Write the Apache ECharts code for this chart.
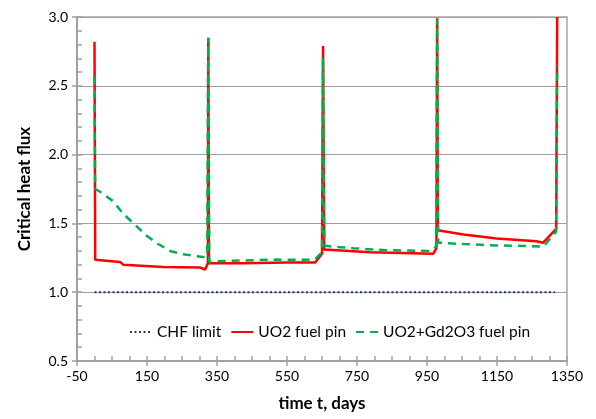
<!DOCTYPE html>
<html>
<head>
<meta charset="utf-8">
<script src="https://cdn.jsdelivr.net/npm/echarts@6/dist/echarts.min.js"></script>
<style>html,body{margin:0;padding:0;background:#fff}#c{width:596px;height:419px}</style>
</head>
<body>
<div id="c"></div>
<script>
// ---- data ----
var chfDays = [0, 1316];
var chfValues = [1.0, 1.0];

var uo2Days = [0, 2, 73, 82, 197, 301, 316, 324, 325, 327, 332, 425, 549, 630, 650, 653, 656, 787, 968, 977, 979, 981, 1054, 1149, 1263, 1282, 1319, 1322];
var uo2Values = [2.82, 1.236, 1.22, 1.20, 1.183, 1.18, 1.165, 1.21, 2.85, 1.21, 1.20, 1.21, 1.215, 1.215, 1.28, 2.79, 1.31, 1.29, 1.28, 1.32, 2.99, 1.45, 1.42, 1.39, 1.37, 1.36, 1.46, 3.0];

var gdDays = [0, 2, 16, 54, 82, 116, 149, 182, 216, 254, 311, 322, 325, 328, 353, 416, 520, 606, 630, 650, 653, 657, 682, 739, 835, 958, 976, 979, 982, 1054, 1149, 1244, 1282, 1319, 1322];
var gdValues = [2.57, 1.75, 1.73, 1.66, 1.57, 1.49, 1.41, 1.35, 1.30, 1.275, 1.255, 1.26, 2.85, 1.22, 1.225, 1.23, 1.237, 1.235, 1.24, 1.29, 2.71, 1.34, 1.33, 1.32, 1.305, 1.30, 1.33, 2.98, 1.36, 1.35, 1.34, 1.335, 1.33, 1.44, 2.65];

var seriesNames = ['CHF limit', 'UO2 fuel pin', 'UO2+Gd2O3 fuel pin'];
var xMin = -50, xMax = 1350, xStep = 200;
var yMin = 0.5, yMax = 3.0, yStep = 0.5;
var xTitle = 'time t, days';
var yTitle = 'Critical heat flux';

function pairs(xs, ys) { return xs.map(function (x, i) { return [x, ys[i]]; }); }

var FONT = 'Lato';
var AX = '#a0a0a0';
var chart = echarts.init(document.getElementById('c'), null, {renderer: 'canvas'});
chart.setOption({
  animation: false,
  backgroundColor: '#fff',
  grid: {left: 77, right: 29, top: 17, bottom: 58, show: true, borderColor: '#a6a6a6', borderWidth: 1.5},
  legend: {
    data: seriesNames, left: 124, top: 319, itemWidth: 22, itemHeight: 10, itemGap: 9,
    itemStyle: {opacity: 0},
    textStyle: {fontFamily: FONT, fontSize: 15.5, color: '#000'}
  },
  xAxis: [{
    type: 'value', min: xMin, max: xMax, interval: xStep,
    name: xTitle, nameLocation: 'middle', nameGap: 34,
    nameTextStyle: {fontFamily: FONT, fontSize: 17, fontWeight: 'bold', color: '#000'},
    axisLine: {show: true, onZero: false, lineStyle: {color: AX, width: 2}},
    axisTick: {show: true, inside: false, length: 5, lineStyle: {color: AX, width: 1.5}},
    axisLabel: {fontFamily: FONT, fontSize: 14, color: '#000', margin: 8,
      formatter: function (v) { return String(v); }},
    splitLine: {show: false}
  }, {
    type: 'value', min: xMin, max: xMax, interval: xStep, position: 'bottom',
    axisLine: {show: false, onZero: false},
    axisTick: {show: true, inside: true, length: 5, lineStyle: {color: AX, width: 1.5}},
    minorTick: {show: true, splitNumber: 4, length: 5, lineStyle: {color: AX, width: 1.5}},
    axisLabel: {show: false}, splitLine: {show: false}
  }],
  yAxis: [{
    type: 'value', min: yMin, max: yMax, interval: yStep,
    name: yTitle, nameLocation: 'middle', nameGap: 44,
    nameTextStyle: {fontFamily: FONT, fontSize: 17, fontWeight: 'bold', color: '#000'},
    axisLine: {show: true, onZero: false, lineStyle: {color: AX, width: 2}},
    axisTick: {show: true, inside: false, length: 5, lineStyle: {color: AX, width: 1.5}},
    axisLabel: {fontFamily: FONT, fontSize: 14, color: '#000', margin: 9,
      formatter: function (v) { return v.toFixed(1); }},
    splitLine: {show: true, lineStyle: {color: '#a0a0a0', width: 1}}
  }, {
    type: 'value', min: yMin, max: yMax, interval: yStep, position: 'left',
    axisLine: {show: false, onZero: false},
    axisTick: {show: true, inside: true, length: 5, lineStyle: {color: AX, width: 1.5}},
    minorTick: {show: true, splitNumber: 5, length: 5, lineStyle: {color: AX, width: 1.5}},
    axisLabel: {show: false}, splitLine: {show: false}
  }],
  series: [{
    name: seriesNames[0], type: 'line', data: pairs(chfDays, chfValues), symbol: 'none',
    lineStyle: {color: '#1f3a78', width: 2, type: [2, 2.5]}, itemStyle: {color: '#1f3a78'}, z: 2
  }, {
    name: seriesNames[1], type: 'line', data: pairs(uo2Days, uo2Values), symbol: 'none',
    lineStyle: {color: '#ff0000', width: 2.5}, itemStyle: {color: '#ff0000'}, z: 3
  }, {
    name: seriesNames[2], type: 'line', data: pairs(gdDays, gdValues), symbol: 'none',
    lineStyle: {color: '#00b050', width: 2.5, type: [8, 6]}, itemStyle: {color: '#00b050'}, z: 4
  }]
});
</script>
</body>
</html>
